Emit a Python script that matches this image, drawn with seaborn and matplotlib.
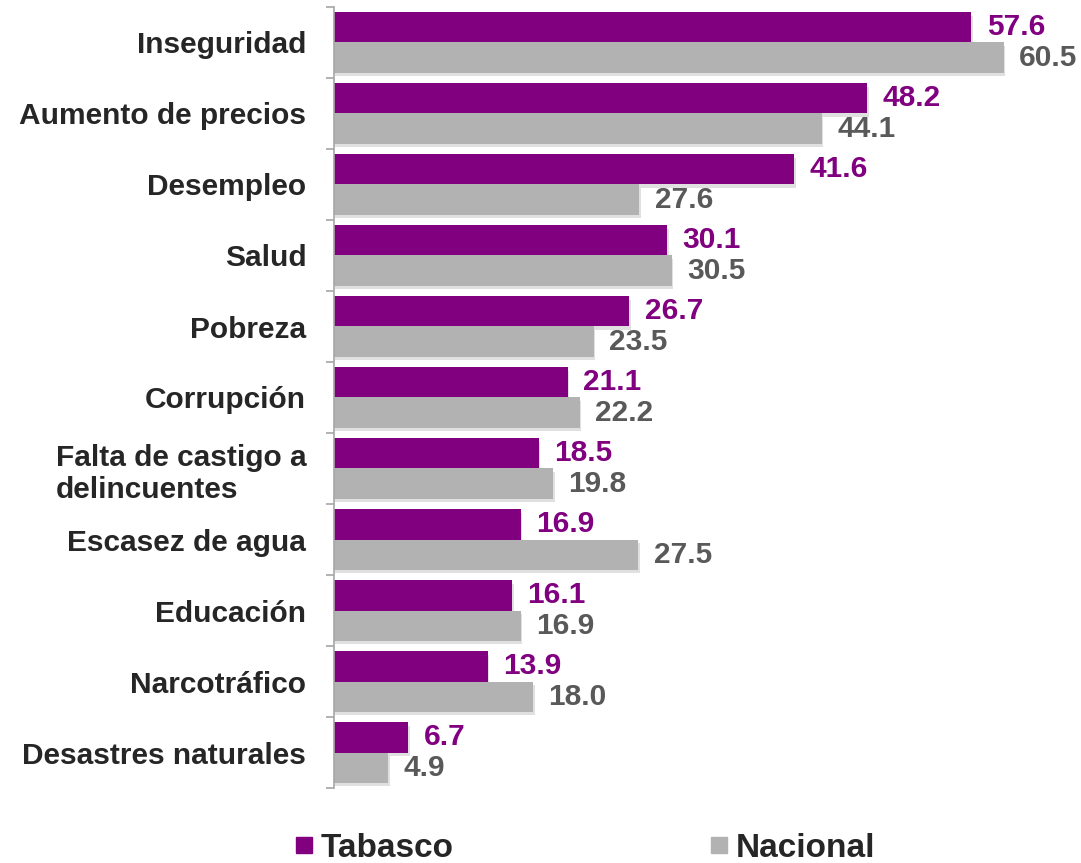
import numpy as np
import pandas as pd
import matplotlib
matplotlib.use('Agg')
import matplotlib.pyplot as plt
from matplotlib.lines import Line2D
from matplotlib import patheffects
import seaborn as sns

sns.set_theme(style='white')
plt.rcParams['font.family'] = ['Liberation Sans', 'DejaVu Sans']

categories = ['Inseguridad', 'Aumento de precios', 'Desempleo', 'Salud', 'Pobreza',
              'Corrupción', 'Falta de castigo a\ndelincuentes', 'Escasez de agua',
              'Educación', 'Narcotráfico', 'Desastres naturales']
tabasco = [57.6, 48.2, 41.6, 30.1, 26.7, 21.1, 18.5, 16.9, 16.1, 13.9, 6.7]
nacional = [60.5, 44.1, 27.6, 30.5, 23.5, 22.2, 19.8, 27.5, 16.9, 18.0, 4.9]
series = ['Tabasco', 'Nacional']

purple = '#800080'
gray = '#B2B2B2'
label_colors = {'Tabasco': purple, 'Nacional': '#595959'}

df = pd.DataFrame({
    'categoria': categories * 2,
    'valor': tabasco + nacional,
    'serie': ['Tabasco'] * len(categories) + ['Nacional'] * len(categories),
})

fig = plt.figure(figsize=(10.81, 8.63), dpi=100)
ax = fig.add_axes([334 / 1081, 1 - 788 / 863, (1060 - 334) / 1081, (788 - 7) / 863])

sns.barplot(ax=ax, data=df, y='categoria', x='valor', hue='serie', order=categories,
            hue_order=series, palette=[purple, gray], orient='h', width=0.85,
            saturation=1, legend=False, linewidth=0)

# soft shadow under bars
for p in ax.patches:
    p.set_linewidth(0)
    p.set_path_effects([patheffects.SimplePatchShadow(offset=(1, -2.5), alpha=0.12,
                                                      shadow_rgbFace='#000000'),
                        patheffects.Normal()])

for cont, s in zip(ax.containers, series):
    ax.bar_label(cont, fmt='%.1f', padding=11, color=label_colors[s],
                 fontsize=21.5, fontweight='bold')

ax.set_xlim(0, 65.6)
ax.set_ylim(len(categories) - 0.5, -0.5)
ax.set_xlabel('')
ax.set_ylabel('')
ax.set_xticks([])
for side in ['top', 'right', 'bottom']:
    ax.spines[side].set_visible(False)
ax.spines['left'].set_color('#A6A6A6')
ax.spines['left'].set_linewidth(1.2)

ax.set_yticks(np.arange(len(categories)))
ax.set_yticklabels(categories, fontsize=21.5, fontweight='bold', color='#262626')
ax.set_yticks(np.arange(len(categories) + 1) - 0.5, minor=True)
ax.tick_params(axis='y', which='major', length=0, pad=20)
ax.tick_params(axis='y', which='minor', left=True, length=6, width=1.2, color='#A6A6A6')
for t in ax.get_yticklabels():
    t.set_horizontalalignment('right')
    t.set_multialignment('left')

handles = [Line2D([], [], marker='s', linestyle='none', markersize=12, color=c)
           for c in [purple, gray]]
fig.legend(handles, series, loc='center', bbox_to_anchor=(0.54, 1 - 848 / 863), ncol=2,
           frameon=False, prop={'size': 24, 'weight': 'bold'}, columnspacing=7.6,
           handletextpad=0.15, handlelength=0.7)

plt.savefig('out.png', dpi=100)
